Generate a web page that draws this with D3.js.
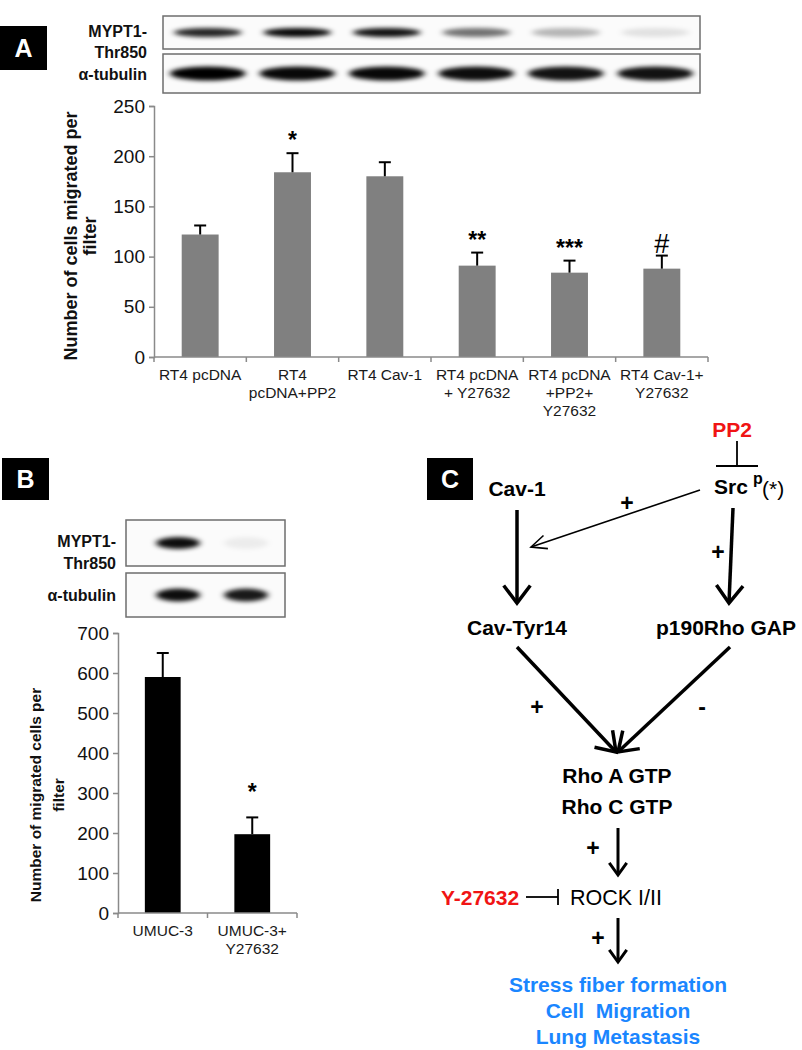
<!DOCTYPE html>
<html>
<head>
<meta charset="utf-8">
<script src="https://cdn.jsdelivr.net/npm/d3@7"></script>
<style>
body { margin: 0; background: #fff; }
svg { display: block; font-family: "Liberation Sans", Arial, sans-serif; }
</style>
</head>
<body>
<svg id="fig" width="802" height="1050"></svg>
<script>
// panel A
var groupsA = [["RT4 pcDNA"], ["RT4", "pcDNA+PP2"], ["RT4 Cav-1"], ["RT4 pcDNA", "+ Y27632"], ["RT4 pcDNA", "+PP2+", "Y27632"], ["RT4 Cav-1+", "Y27632"]];
var meansA = [122, 184, 180, 91, 84, 88];
var errA = [9, 19, 14, 13, 12, 13];
var sigA = ["", "*", "", "**", "***", "#"];
var ticksA = [0, 50, 100, 150, 200, 250];
var myptA = [0.85, 0.97, 0.93, 0.55, 0.28, 0.1];
var tubA = [1, 0.97, 0.97, 0.95, 0.93, 0.93];

// panel B
var groupsB = [["UMUC-3"], ["UMUC-3+", "Y27632"]];
var meansB = [590, 197];
var errB = [60, 42];
var sigB = ["", "*"];
var ticksB = [0, 100, 200, 300, 400, 500, 600, 700];
var myptB = [0.95, 0.06];
var tubB = [0.95, 0.9];

var svg = d3.select("#fig");
var defs = svg.append("defs");
defs.append("filter").attr("id", "blur").attr("x", "-50%").attr("y", "-100%")
    .attr("width", "200%").attr("height", "300%")
  .append("feGaussianBlur").attr("stdDeviation", "3.2 2.2");

//black label box with a letter
function panelLabel(x, y, w, h, letter) {
    svg.append("rect").attr("x", x).attr("y", y).attr("width", w).attr("height", h).attr("fill", "#000");
    svg.append("text").attr("x", x + w / 2).attr("y", y + h / 2 + 9)
        .attr("text-anchor", "middle").attr("fill", "#fff")
        .attr("font-weight", "bold").attr("font-size", 25).text(letter);
}

//one western blot strip
function blot(x0, x1, y0, y1, lanes, values, rx, ry) {
    svg.append("rect").attr("x", x0).attr("y", y0).attr("width", x1 - x0).attr("height", y1 - y0)
        .attr("fill", "#fbfbfb").attr("stroke", "#6e6e6e").attr("stroke-width", 1.5);
    svg.append("g").attr("filter", "url(#blur)")
      .selectAll("ellipse").data(values).enter().append("ellipse")
        .attr("cx", (d, i) => lanes(i))
        .attr("cy", (y0 + y1) / 2)
        .attr("rx", rx).attr("ry", ry)
        .attr("fill", "#000")
        .attr("opacity", d => d);
}

function leftLabels(x, lines, size) {
    lines.forEach(l => {
        svg.append("text").attr("x", x).attr("y", l[1]).attr("text-anchor", "end")
            .attr("font-weight", "bold").attr("font-size", size).attr("fill", "#111").text(l[0]);
    });
}

function barChart(o) {
    var g = svg.append("g");
    var x = d3.scaleBand().domain(d3.range(o.means.length)).range(o.xr)
        .paddingInner(0.6).paddingOuter(0.3);
    var y = d3.scaleLinear().domain([0, d3.max(o.ticks)]).range(o.yr);

    g.selectAll("rect.bar").data(o.means).enter().append("rect")
        .attr("x", (d, i) => x(i)).attr("width", x.bandwidth())
        .attr("y", d => y(d)).attr("height", d => y(0) - y(d))
        .attr("fill", o.color);

    // upper error bars
    g.selectAll("line.err").data(o.means).enter().append("line")
        .attr("x1", (d, i) => x(i) + x.bandwidth() / 2).attr("x2", (d, i) => x(i) + x.bandwidth() / 2)
        .attr("y1", d => y(d)).attr("y2", (d, i) => y(d + o.err[i]))
        .attr("stroke", "#000").attr("stroke-width", 2);
    g.selectAll("line.cap").data(o.means).enter().append("line")
        .attr("x1", (d, i) => x(i) + x.bandwidth() / 2 - 6).attr("x2", (d, i) => x(i) + x.bandwidth() / 2 + 6)
        .attr("y1", (d, i) => y(d + o.err[i])).attr("y2", (d, i) => y(d + o.err[i]))
        .attr("stroke", "#000").attr("stroke-width", 2);

    g.selectAll("text.sig").data(o.sig).enter().append("text")
        .attr("x", (d, i) => x(i) + x.bandwidth() / 2)
        .attr("y", (d, i) => y(o.means[i] + o.err[i]) - (d == "#" ? o.hashGap : o.sigGap))
        .attr("text-anchor", "middle").attr("font-weight", d => d == "#" ? "normal" : "bold")
        .attr("font-size", d => d == "#" ? 27 : 23)
        .text(d => d);

    var ya = g.append("g").attr("transform", "translate(" + o.xr[0] + ",0)")
        .call(d3.axisLeft(y).tickValues(o.ticks).tickSize(5).tickPadding(4));
    ya.selectAll("path,line").attr("stroke", "#8a8a8a").attr("stroke-width", 1.5);
    ya.selectAll("text").attr("font-size", 19).attr("fill", "#111")
        .attr("font-family", "Liberation Sans, Arial, sans-serif");

    // x axis with ticks between categories
    g.append("line").attr("x1", o.xr[0]).attr("x2", o.xr[1]).attr("y1", y(0)).attr("y2", y(0))
        .attr("stroke", "#8a8a8a").attr("stroke-width", 1.5);
    g.selectAll("line.xt").data(d3.range(o.means.length + 1)).enter().append("line")
        .attr("x1", i => o.xr[0] + i * x.step()).attr("x2", i => o.xr[0] + i * x.step())
        .attr("y1", y(0)).attr("y2", y(0) + 5)
        .attr("stroke", "#8a8a8a").attr("stroke-width", 1.5);

    o.groups.forEach((lines, i) => {
        lines.forEach((t, k) => {
            g.append("text").attr("x", x(i) + x.bandwidth() / 2).attr("y", y(0) + o.labelY + k * 18)
                .attr("text-anchor", "middle").attr("font-size", 15.5).attr("fill", "#1a1a1a").text(t);
        });
    });

    o.title.forEach((t, k) => {
        g.append("text").attr("transform", "translate(" + o.titleX[k] + "," + o.titleY + ") rotate(-90)")
            .attr("text-anchor", "middle").attr("font-weight", "bold")
            .attr("font-size", o.titleSize).attr("fill", "#111").text(t);
    });
}

// ---------- panel A ----------
panelLabel(0, 26, 47, 44, "A");
var lanesA = d3.scaleBand().domain(d3.range(6)).range([163, 700]);
var laneA = i => lanesA(i) + lanesA.bandwidth() / 2;
blot(163, 700, 16, 49, laneA, myptA, 34, 4.5);
blot(163, 700, 54, 93, laneA, tubA, 38, 7);
leftLabels(147, [["MYPT1-", 37], ["Thr850", 58], ["α-tubulin", 80]], 16);

barChart({
    means: meansA, err: errA, sig: sigA, ticks: ticksA, groups: groupsA,
    xr: [154, 708], yr: [357, 106], color: "#808080",
    sigGap: 5, hashGap: 3, labelY: 23,
    title: ["Number of cells migrated per", "filter"], titleX: [77, 96], titleY: 236, titleSize: 18
});

// ---------- panel B ----------
panelLabel(2, 458, 47, 42, "B");
var lanesB = d3.scalePoint().domain([0, 1]).range([178, 246]);
blot(126, 285, 520, 566, lanesB, myptB, 22, 6);
blot(126, 285, 573, 617, lanesB, tubB, 22, 6.5);
leftLabels(116, [["MYPT1-", 547], ["Thr850", 569], ["α-tubulin", 601]], 16);

barChart({
    means: meansB, err: errB, sig: sigB, ticks: ticksB, groups: groupsB,
    xr: [118, 297], yr: [913, 633], color: "#000",
    sigGap: 17, hashGap: 17, labelY: 23,
    title: ["Number of migrated cells per", "filter"], titleX: [41, 64], titleY: 795, titleSize: 15.5
});

// ---------- panel C ----------
panelLabel(427, 458, 46, 42, "C");
var gc = svg.append("g");

function txt(x, y, t, opt) {
    opt = opt || {};
    return gc.append("text").attr("x", x).attr("y", y).attr("text-anchor", opt.anchor || "middle")
        .attr("font-weight", opt.weight || "bold").attr("font-size", opt.size || 21)
        .attr("fill", opt.color || "#000").text(t);
}

function arrow(x1, y1, x2, y2, w, len, ang) {
    gc.append("line").attr("x1", x1).attr("y1", y1).attr("x2", x2).attr("y2", y2)
        .attr("stroke", "#000").attr("stroke-width", w);
    var a = Math.atan2(y2 - y1, x2 - x1);
    var p1 = [x2 - len * Math.cos(a - ang), y2 - len * Math.sin(a - ang)];
    var p2 = [x2 - len * Math.cos(a + ang), y2 - len * Math.sin(a + ang)];
    gc.append("polyline").attr("points", [p1, [x2, y2], p2].map(p => p.join(",")).join(" "))
        .attr("fill", "none").attr("stroke", "#000").attr("stroke-width", w)
        .attr("stroke-linejoin", "miter");
}

function inhibit(x1, y1, x2, y2, barHalf, w) {
    gc.append("line").attr("x1", x1).attr("y1", y1).attr("x2", x2).attr("y2", y2)
        .attr("stroke", "#000").attr("stroke-width", w);
    var a = Math.atan2(y2 - y1, x2 - x1) + Math.PI / 2;
    gc.append("line")
        .attr("x1", x2 - barHalf * Math.cos(a)).attr("y1", y2 - barHalf * Math.sin(a))
        .attr("x2", x2 + barHalf * Math.cos(a)).attr("y2", y2 + barHalf * Math.sin(a))
        .attr("stroke", "#000").attr("stroke-width", w);
}

var red = "#f01414", blue = "#1a86ff";

txt(732, 437, "PP2", {color: red});
inhibit(737, 441, 737, 466, 21, 1.8);
txt(517, 496, "Cav-1");
txt(714, 494, "Src", {anchor: "start"});
txt(753, 484, "p", {anchor: "start", size: 16});
txt(762, 496, "(*)", {anchor: "start", weight: "normal"});

arrow(700, 490, 531, 547, 1.6, 17, 0.42);
txt(627, 511, "+", {size: 23});
arrow(517, 510, 517, 603, 3.5, 22, 0.65);
arrow(733, 508, 729, 603, 3.5, 22, 0.65);
txt(718, 560, "+", {size: 23});

txt(517, 635, "Cav-Tyr14");
txt(726, 635, "p190Rho GAP");

arrow(517, 647, 616, 752, 3.5, 22, 0.6);
arrow(730, 647, 618, 752, 3.5, 22, 0.6);
txt(537, 715, "+", {size: 23});
txt(702, 715, "-", {size: 23});

txt(617, 783, "Rho A GTP");
txt(617, 814, "Rho C GTP");

arrow(618, 828, 618, 875, 3, 15, 0.62);
txt(593, 856, "+", {size: 23});

txt(480, 905, "Y-27632", {color: red});
inhibit(526, 897, 558, 897, 8, 1.8);
txt(570, 905, "ROCK I/II", {anchor: "start", weight: "normal", size: 21.5});

arrow(618, 918, 618, 962, 3, 15, 0.62);
txt(598, 946, "+", {size: 23});

txt(618, 992, "Stress fiber formation", {color: blue});
txt(618, 1018, "Cell  Migration", {color: blue}).style("white-space", "pre");
txt(618, 1044, "Lung Metastasis", {color: blue});
</script>
</body>
</html>
